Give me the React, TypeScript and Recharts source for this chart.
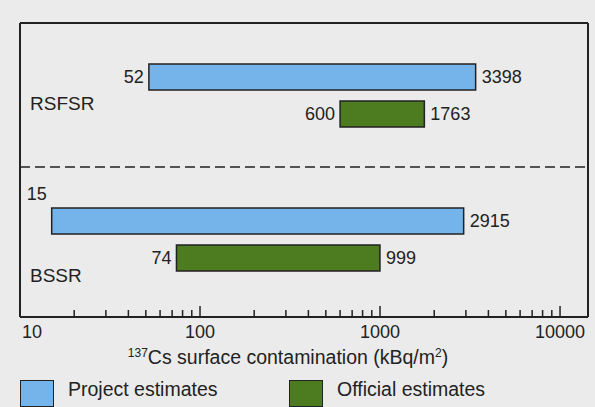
import { BarChart, Bar, XAxis, YAxis, ReferenceLine, LabelList, Legend } from 'recharts';

const regions = ['RSFSR', 'BSSR'];
const projectLow = [52, 15];
const projectHigh = [3398, 2915];
const officialLow = [600, 74];
const officialHigh = [1763, 999];

const decades = [10, 100, 1000];
const multiples = [1, 2, 3, 4, 5, 6, 7, 8, 9];
const majorTicks = [10, 100, 1000, 10000];
const allTicks = [...decades.flatMap((d) => multiples.map((m) => d * m)), 10000];

const FONT = '"Liberation Sans", Arial, sans-serif';
const INK = '#222';
const BLUE = '#74b4ea';
const GREEN = '#4c7b20';

const data = regions.map((region, i) => ({
  region,
  project: [projectLow[i], projectHigh[i]],
  projectLow: projectLow[i],
  projectHigh: projectHigh[i],
  official: [officialLow[i], officialHigh[i]],
  officialLow: officialLow[i],
  officialHigh: officialHigh[i],
}));

const labelDrop: Record<string, number> = { RSFSR: 8, BSSR: 36 };

const XTick = (props: any) => {
  const { x, y, payload } = props;
  const v = payload.value;
  const major = majorTicks.includes(v);
  return (
    <g>
      <line x1={x} x2={x} y1={y} y2={y - (major ? 11 : 7)} stroke={INK} strokeWidth={1.5} />
      {major && (
        <text
          x={v === 10 ? x + 2 : x}
          y={y + 21}
          textAnchor={v === 10 ? 'start' : 'middle'}
          fontFamily={FONT}
          fontSize={18}
          fill={INK}
        >
          {v}
        </text>
      )}
    </g>
  );
};

const YTick = (props: any) => {
  const { x, y, payload } = props;
  return (
    <text x={x + 10} y={y + (labelDrop[payload.value] ?? 0)} dominantBaseline="central" fontFamily={FONT} fontSize={19} fill={INK}>
      {payload.value}
    </text>
  );
};

// value at the left end of a bar; goes above the bar when it is too close to the axis
const LowLabel = (p: any) => {
  const { x, y, height, value } = p;
  const above = x < 60;
  return (
    <text
      x={x - 5}
      y={above ? y - 8 : y + height / 2}
      textAnchor="end"
      dominantBaseline={above ? 'auto' : 'central'}
      fontFamily={FONT}
      fontSize={18}
      fill={INK}
    >
      {value}
    </text>
  );
};

const HighLabel = (p: any) => {
  const { x, y, width, height, value } = p;
  return (
    <text x={x + width + 6} y={y + height / 2} dominantBaseline="central" fontFamily={FONT} fontSize={18} fill={INK}>
      {value}
    </text>
  );
};

const AxisTitle = (props: any) => {
  const { x, y, width } = props.viewBox;
  return (
    <text x={x + width / 2 - 16} y={y + 47} textAnchor="middle" fontFamily={FONT} fontSize={19.5} fill={INK}>
      <tspan fontSize={12} dy={-7}>137</tspan>
      <tspan dy={7}>Cs surface contamination (kBq/m</tspan>
      <tspan fontSize={12} dy={-7}>2</tspan>
      <tspan dy={7}>)</tspan>
    </text>
  );
};

const LegendBox = () => (
  <div style={{ position: 'relative', width: 595, height: 30, fontFamily: FONT, fontSize: 19.5, color: INK }}>
    <div style={{ position: 'absolute', left: 20, top: 3, width: 34, height: 27, background: BLUE, border: `1.5px solid ${INK}`, boxSizing: 'border-box' }} />
    <span style={{ position: 'absolute', left: 68, top: 0, lineHeight: '24px' }}>Project estimates</span>
    <div style={{ position: 'absolute', left: 289, top: 3, width: 34, height: 27, background: GREEN, border: `1.5px solid ${INK}`, boxSizing: 'border-box' }} />
    <span style={{ position: 'absolute', left: 337, top: 0, lineHeight: '24px' }}>Official estimates</span>
  </div>
);

export default function App() {
  return (
    <div style={{ position: 'absolute', left: 0, top: 0, width: 595, height: 407, background: '#ebebeb', overflow: 'hidden' }}>
      <BarChart
        width={595}
        height={407}
        data={data}
        layout="vertical"
        margin={{ top: 22, right: 6, left: 19, bottom: 0 }}
        barSize={26}
        barGap={11}
      >
        <XAxis
          type="number"
          scale="log"
          domain={[10, 14300]}
          allowDataOverflow
          ticks={allTicks}
          interval={0}
          height={60}
          tickSize={0}
          tickMargin={0}
          tickLine={false}
          tick={<XTick />}
          axisLine={{ stroke: INK, strokeWidth: 2 }}
          label={{ content: <AxisTitle /> }}
        />
        <XAxis
          xAxisId="top"
          orientation="top"
          type="number"
          scale="log"
          domain={[10, 14300]}
          allowDataOverflow
          height={1}
          tick={false}
          tickLine={false}
          axisLine={{ stroke: INK, strokeWidth: 2 }}
        />
        <YAxis
          type="category"
          dataKey="region"
          width={1}
          tickSize={0}
          tickMargin={0}
          tickLine={false}
          tick={<YTick />}
          padding={{ top: 0, bottom: 6 }}
          axisLine={{ stroke: INK, strokeWidth: 2 }}
        />
        <YAxis
          yAxisId="right"
          orientation="right"
          type="category"
          dataKey="region"
          width={1}
          tick={false}
          tickLine={false}
          padding={{ top: 0, bottom: 6 }}
          axisLine={{ stroke: INK, strokeWidth: 2 }}
        />
        <ReferenceLine y={regions[1]} position="start" stroke={INK} strokeWidth={1.5} strokeDasharray="10 5" />
        <Legend verticalAlign="bottom" height={30} content={() => <LegendBox />} wrapperStyle={{ left: 0, width: 595 }} />
        <Bar dataKey="project" name="Project estimates" fill={BLUE} stroke={INK} strokeWidth={1.5} isAnimationActive={false}>
          <LabelList dataKey="projectLow" content={<LowLabel />} />
          <LabelList dataKey="projectHigh" content={<HighLabel />} />
        </Bar>
        <Bar dataKey="official" name="Official estimates" fill={GREEN} stroke={INK} strokeWidth={1.5} isAnimationActive={false}>
          <LabelList dataKey="officialLow" content={<LowLabel />} />
          <LabelList dataKey="officialHigh" content={<HighLabel />} />
        </Bar>
      </BarChart>
    </div>
  );
}
